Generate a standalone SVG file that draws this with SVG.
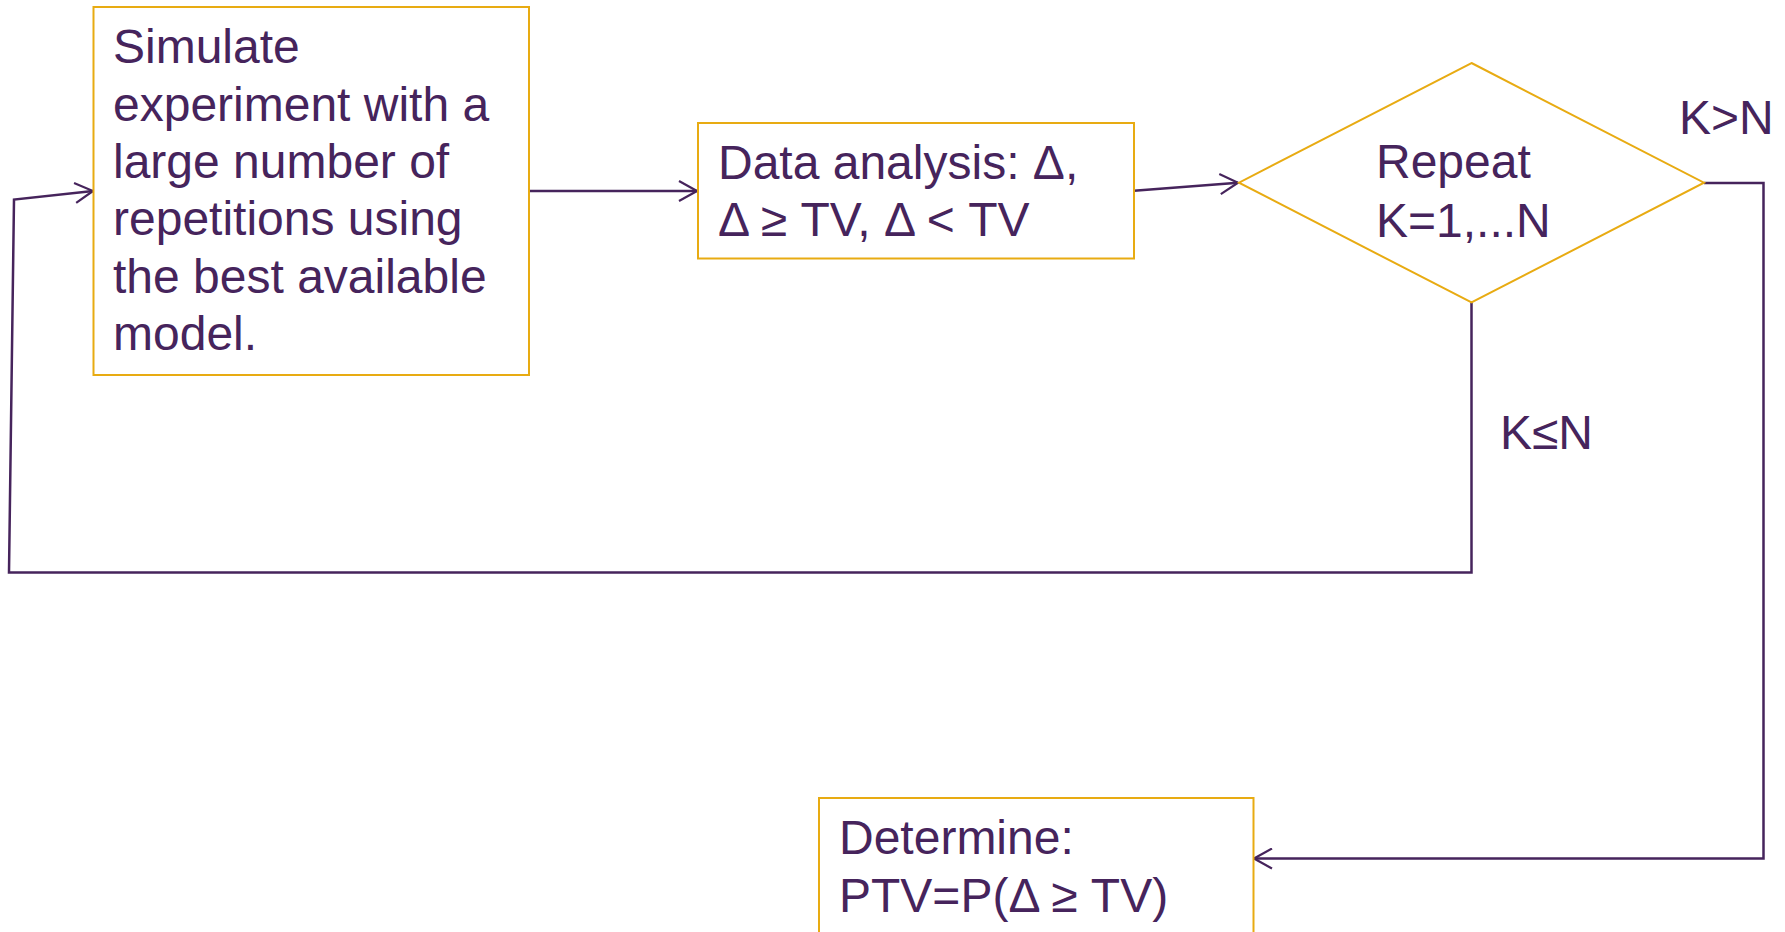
<svg xmlns="http://www.w3.org/2000/svg" width="1785" height="932" viewBox="0 0 1785 932">
  <style>
    .box { fill: #ffffff; stroke: #E8AB12; stroke-width: 2; }
    .lbl { font-family: "Liberation Sans", Arial, sans-serif; font-size: 48px; fill: #46245C; }
    .wire { fill: none; stroke: #46245C; stroke-width: 2.5; }
  </style>
  <defs>
    <marker id="open-arrow" viewBox="0 0 20 22" refX="19" refY="11" markerWidth="20" markerHeight="22" markerUnits="userSpaceOnUse" orient="auto">
      <path d="M1,1 L19,11 L1,21" fill="none" stroke="#46245C" stroke-width="2.2"/>
    </marker>
  </defs>
  <rect width="1785" height="932" fill="#ffffff"/>

  <!-- connectors -->
  <g id="connectors">
    <line class="wire" x1="529" y1="191" x2="697" y2="191" marker-end="url(#open-arrow)"/>
    <line class="wire" x1="1134" y1="190.7" x2="1238" y2="182.7" marker-end="url(#open-arrow)"/>
    <!-- loop back: K≤N -->
    <polyline class="wire" points="1471.5,302.5 1471.5,572.5 9,572.5 14,199.5 93,191" marker-end="url(#open-arrow)"/>
    <!-- exit: K>N -->
    <polyline class="wire" points="1704,183 1763.5,183 1763.5,858.5 1254,858.5" marker-end="url(#open-arrow)"/>
    <text class="lbl" x="1679" y="134">K&gt;N</text>
    <text class="lbl" x="1500" y="449">K≤N</text>
  </g>

  <g id="simulate">
    <rect class="box" x="93.5" y="7" width="435.5" height="368"/>
    <text class="lbl">
      <tspan x="113" y="63">Simulate</tspan>
      <tspan x="113" y="120.5">experiment with a</tspan>
      <tspan x="113" y="178">large number of</tspan>
      <tspan x="113" y="235">repetitions using</tspan>
      <tspan x="113" y="292.5">the best available</tspan>
      <tspan x="113" y="350">model.</tspan>
    </text>
  </g>

  <g id="analysis">
    <rect class="box" x="698" y="123" width="436" height="135.5"/>
    <text class="lbl">
      <tspan x="718" y="179">Data analysis: Δ,</tspan>
      <tspan x="718" y="236">Δ ≥ TV, Δ &lt; TV</tspan>
    </text>
  </g>

  <g id="repeat">
    <polygon class="box" points="1471.5,63 1704,182.7 1471.5,302.5 1239,182.7"/>
    <text class="lbl">
      <tspan x="1376" y="178">Repeat</tspan>
      <tspan x="1376" y="236.5">K=1,...N</tspan>
    </text>
  </g>

  <g id="determine">
    <rect class="box" x="819" y="798" width="434.5" height="160"/>
    <text class="lbl">
      <tspan x="839" y="854">Determine:</tspan>
      <tspan x="839" y="911.5">PTV=P(Δ ≥ TV)</tspan>
    </text>
  </g>
</svg>
